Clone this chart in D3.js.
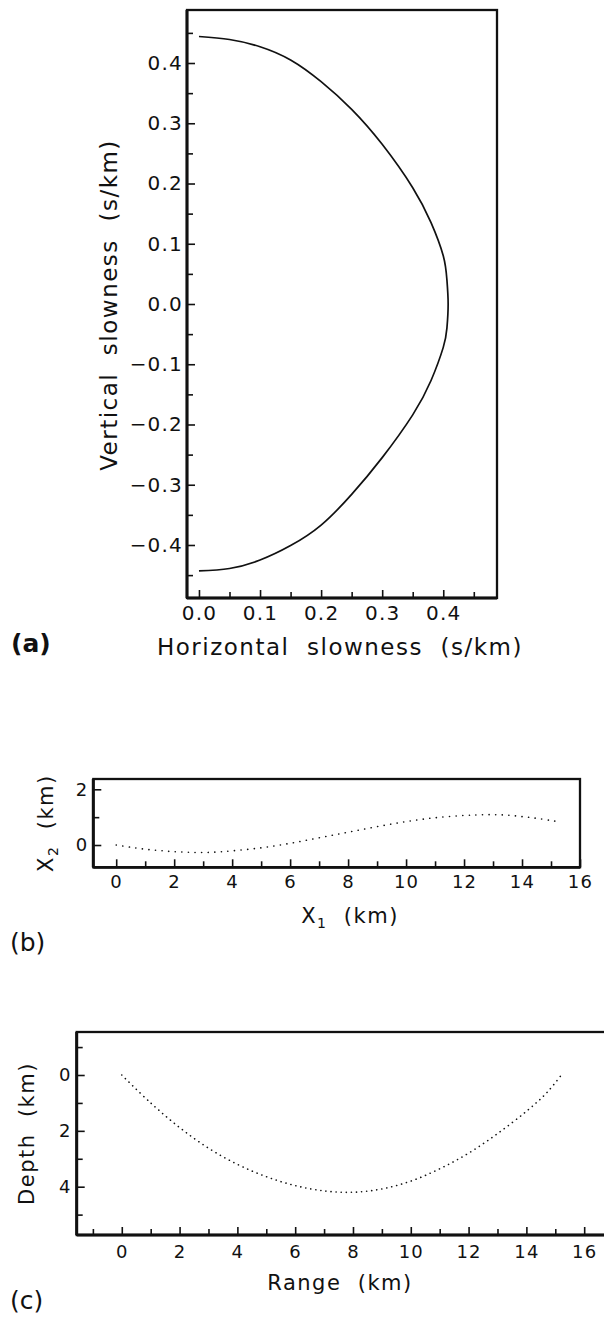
<!DOCTYPE html>
<html><head><meta charset="utf-8">
<script src="https://cdn.jsdelivr.net/npm/d3@7"></script>
<style>
body{margin:0;background:#fff}
svg{display:block}
text{font-family:"DejaVu Sans",sans-serif;fill:#111}
</style>
</head><body>
<svg id="chart" width="604" height="1320"></svg>
<script>
// ---------- data ----------
// (a) slowness curve: horizontal and vertical slowness (s/km)
const slowH = [0.0,0.05,0.1,0.15,0.2,0.25,0.3,0.35,0.38,0.4,0.406,0.408,0.406,0.4,0.38,0.35,0.3,0.25,0.2,0.15,0.1,0.05,0.0];
const slowV = [0.444,0.439,0.427,0.405,0.369,0.323,0.265,0.193,0.135,0.08,0.04,0.0,-0.04,-0.072,-0.127,-0.184,-0.255,-0.316,-0.367,-0.401,-0.425,-0.439,-0.443];
const aXTicks = [0.0,0.1,0.2,0.3,0.4];
const aXMinor = [0.05,0.15,0.25,0.35,0.45];
const aYTicks = [-0.4,-0.3,-0.2,-0.1,0.0,0.1,0.2,0.3,0.4];
const aYMinor = [-0.45,-0.35,-0.25,-0.15,-0.05,0.05,0.15,0.25,0.35,0.45];

// (b) ray path X1, X2 (km)
const x1 = [0,0.5,1,1.5,2,2.5,3,3.5,4,5,6,7,8,9,10,11,12,12.5,13,13.5,14,14.5,15,15.25];
const x2 = [0,-0.08,-0.15,-0.2,-0.24,-0.26,-0.27,-0.25,-0.21,-0.1,0.06,0.26,0.46,0.66,0.84,0.98,1.06,1.08,1.09,1.07,1.02,0.96,0.88,0.84];
const bXTicks = [0,2,4,6,8,10,12,14,16];
const bXMinor = [1,3,5,7,9,11,13,15];
const bYTicks = [0,2];
const bYMinor = [1];

// (c) ray path range, depth (km)
const range = [0,1,2,3,4,5,6,7,8,9,10,11,12,13,14,14.7,15.27];
const depth = [0,1.0,1.88,2.62,3.2,3.64,3.96,4.15,4.2,4.08,3.8,3.36,2.8,2.1,1.3,0.64,-0.08];
const cXTicks = [0,2,4,6,8,10,12,14,16];
const cXMinor = [-1,1,3,5,7,9,11,13,15];
const cYTicks = [0,2,4];
const cYMinor = [-1,1,3,5];

// ---------- drawing ----------
const svg = d3.select("#chart");

function axes(g, x, y, o) {
  const [xl, xr] = x.range(), [yb, yt] = y.range();
  const ax = d3.axisBottom(x).tickValues(o.xt).tickSize(-o.maj).tickPadding(o.xpad).tickFormat(o.xf);
  const axm = d3.axisBottom(x).tickValues(o.xm).tickSize(-o.min).tickFormat("");
  const ay = d3.axisLeft(y).tickValues(o.yt).tickSize(-o.maj).tickPadding(o.ypad).tickFormat(o.yf);
  const aym = d3.axisLeft(y).tickValues(o.ym).tickSize(-o.min).tickFormat("");
  const style = s => s.call(q => q.select(".domain").remove())
    .attr("font-family", '"DejaVu Sans", sans-serif').attr("font-size", o.fs)
    .call(q => q.selectAll("line").attr("stroke", "#111").attr("stroke-width", 1.6))
    .call(q => q.selectAll("text").attr("fill", "#111").attr("letter-spacing", o.ls));
  g.append("g").attr("transform", `translate(0,${yb})`).call(ax).call(style);
  g.append("g").attr("transform", `translate(0,${yb})`).call(axm).call(style);
  g.append("g").attr("transform", `translate(${xl},0)`).call(ay).call(style);
  g.append("g").attr("transform", `translate(${xl},0)`).call(aym).call(style);
  // frame
  g.append("rect").attr("x", xl).attr("y", yt).attr("width", xr - xl).attr("height", yb - yt)
    .attr("fill", "none").attr("stroke", "#111").attr("stroke-width", 2.3);
  g.append("line").attr("x1", xl).attr("x2", xl).attr("y1", yt).attr("y2", yb)
    .attr("stroke", "#111").attr("stroke-width", 3);
  g.append("line").attr("x1", xl).attr("x2", xr).attr("y1", yb).attr("y2", yb)
    .attr("stroke", "#111").attr("stroke-width", 2.8);
}

// ----- panel (a) -----
const xA = d3.scaleLinear().domain([-0.0196, 0.488]).range([187, 497]);
const yA = d3.scaleLinear().domain([-0.488, 0.488]).range([598, 10]);
const gA = svg.append("g");
axes(gA, xA, yA, {xt: aXTicks, xm: aXMinor, yt: aYTicks, ym: aYMinor, maj: 8, min: 6,
  xpad: 8, ypad: 4, fs: 20, ls: 1.2, xf: d3.format(".1f"), yf: d => d3.format(".1f")(d).replace("-", "\u2212")});
gA.append("path").datum(slowH.map((h, i) => [h, slowV[i]]))
  .attr("fill", "none").attr("stroke", "#111").attr("stroke-width", 1.7)
  .attr("d", d3.line().x(d => xA(d[0])).y(d => yA(d[1])).curve(d3.curveNatural));
gA.append("text").attr("x", 340).attr("y", 655).attr("text-anchor", "middle")
  .attr("font-size", 23).attr("letter-spacing", 1.5).attr("xml:space", "preserve")
  .text("Horizontal  slowness  (s/km)");
gA.append("text").attr("transform", "translate(117,305) rotate(-90)").attr("text-anchor", "middle")
  .attr("font-size", 23).attr("letter-spacing", 1.5).attr("xml:space", "preserve")
  .text("Vertical  slowness  (s/km)");
gA.append("text").attr("x", 11).attr("y", 652).attr("font-family", '"Liberation Serif", serif')
  .attr("font-weight", "bold").attr("font-size", 25).text("(a)");

// ----- panel (b) -----
const xB = d3.scaleLinear().domain([-0.79, 16.0]).range([93.3, 580]);
const yB = d3.scaleLinear().domain([-0.80, 2.37]).range([867.3, 779]);
const gB = svg.append("g");
axes(gB, xB, yB, {xt: bXTicks, xm: bXMinor, yt: bYTicks, ym: bYMinor, maj: 8, min: 6,
  xpad: 8, ypad: 5, fs: 18, ls: 1.2, xf: d3.format("d"), yf: d3.format("d")});
gB.append("path").datum(x1.map((v, i) => [v, x2[i]]))
  .attr("fill", "none").attr("stroke", "#111").attr("stroke-width", 1.6)
  .attr("stroke-linecap", "round").attr("stroke-dasharray", "0.1 6.5")
  .attr("d", d3.line().x(d => xB(d[0])).y(d => yB(d[1])).curve(d3.curveCatmullRom));
const tb = gB.append("text").attr("x", 350).attr("y", 923).attr("text-anchor", "middle")
  .attr("font-size", 21).attr("letter-spacing", 1.5).attr("xml:space", "preserve");
tb.append("tspan").text("X");
tb.append("tspan").attr("font-size", 14).attr("dy", 5).text("1");
tb.append("tspan").attr("dy", -5).text("  (km)");
const tb2 = gB.append("text").attr("transform", `translate(53,${(779+867.3)/2}) rotate(-90)`)
  .attr("text-anchor", "middle").attr("font-size", 21).attr("letter-spacing", 1.5).attr("xml:space", "preserve");
tb2.append("tspan").text("X");
tb2.append("tspan").attr("font-size", 14).attr("dy", 5).text("2");
tb2.append("tspan").attr("dy", -5).text("  (km)");
gB.append("text").attr("x", 10).attr("y", 951).attr("font-family", '"Liberation Serif", serif')
  .attr("font-size", 25).text("(b)");

// ----- panel (c) -----
const xC = d3.scaleLinear().domain([-1.56, 17.5]).range([76.7, 76.7 + 19.06 * 28.9]);
const yC = d3.scaleLinear().domain([5.73, -1.54]).range([1235, 1032]);
const gC = svg.append("g");
axes(gC, xC, yC, {xt: cXTicks, xm: cXMinor, yt: cYTicks, ym: cYMinor, maj: 8, min: 6,
  xpad: 10, ypad: 5, fs: 18, ls: 1.2, xf: d3.format("d"), yf: d3.format("d")});
gC.append("path").datum(range.map((v, i) => [v, depth[i]]))
  .attr("fill", "none").attr("stroke", "#111").attr("stroke-width", 1.6)
  .attr("stroke-linecap", "round").attr("stroke-dasharray", "0.1 5")
  .attr("d", d3.line().x(d => xC(d[0])).y(d => yC(d[1])).curve(d3.curveCatmullRom));
gC.append("text").attr("x", 340).attr("y", 1290).attr("text-anchor", "middle")
  .attr("font-size", 21).attr("letter-spacing", 1.5).attr("xml:space", "preserve").text("Range  (km)");
gC.append("text").attr("transform", `translate(34,${(1032+1235)/2}) rotate(-90)`).attr("text-anchor", "middle")
  .attr("font-size", 21).attr("letter-spacing", 1.5).attr("xml:space", "preserve").text("Depth  (km)");
gC.append("text").attr("x", 10).attr("y", 1309).attr("font-family", '"Liberation Serif", serif')
  .attr("font-size", 25).text("(c)");
</script>
</body></html>
